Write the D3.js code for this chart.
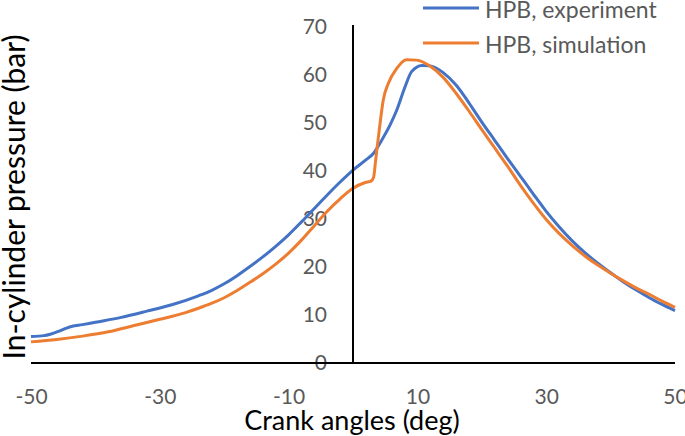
<!DOCTYPE html>
<html>
<head>
<meta charset="utf-8">
<script src="https://cdn.jsdelivr.net/npm/d3@7"></script>
<style>
  html, body { margin: 0; padding: 0; background: #fff; }
  svg { display: block; font-family: Lato, "DejaVu Sans", sans-serif; }
</style>
</head>
<body>
<svg id="chart" width="685" height="436"></svg>
<script>
// ---- data ----
const seriesNames = ["HPB, experiment", "HPB, simulation"];
const seriesColors = ["#4472C4", "#ED7D31"];

const experimentAngle = [-50, -48, -47, -45.5, -44, -42, -40, -36, -32, -28, -24, -22, -20, -18, -16, -14, -12, -10, -8, -6, -4, -2, 0, 2, 3.2, 4.5, 5.8, 6.8, 8.1, 9.1, 10.7, 12, 14, 16, 18, 20, 22, 24, 26, 28, 30, 32, 34, 36, 38, 40, 42, 44, 46, 48, 50];
const experimentPressure = [5.5, 5.7, 6.0, 6.7, 7.5, 8.0, 8.5, 9.5, 10.8, 12.2, 14.0, 15.1, 16.5, 18.2, 20.1, 22.1, 24.3, 26.7, 29.4, 32.2, 35.0, 37.7, 40.2, 42.3, 43.7, 46.5, 49.7, 52.7, 57.6, 60.7, 62.0, 61.9, 60.5, 57.9, 54.2, 50.2, 46.4, 42.6, 38.9, 35.2, 31.6, 28.4, 25.5, 23.0, 20.8, 18.8, 16.9, 15.2, 13.6, 12.2, 10.9];

const simulationAngle = [-50, -46, -42, -38, -34, -30, -26, -24, -22, -20, -18, -16, -14, -12, -10, -8, -6, -4, -2, 0, 1.9, 2.8, 3.2, 3.5, 3.8, 4.2, 4.7, 5.5, 6.8, 8.3, 9.9, 12, 14, 16, 18, 20, 22, 24, 26, 28, 30, 32, 34, 36, 38, 40, 42, 44, 46, 48, 50];
const simulationPressure = [4.4, 4.9, 5.6, 6.5, 7.8, 9.1, 10.5, 11.4, 12.4, 13.6, 15.1, 16.8, 18.6, 20.6, 22.9, 25.6, 28.6, 31.6, 34.2, 36.4, 37.6, 37.9, 38.7, 42.0, 45.5, 49.9, 54.8, 58.3, 61.4, 63.2, 63.1, 61.8, 59.5, 56.2, 52.5, 48.6, 44.8, 41.0, 37.0, 33.3, 29.9, 27.0, 24.5, 22.3, 20.4, 18.7, 17.1, 15.6, 14.3, 12.9, 11.6];

const xTicks = [-50, -30, -10, 10, 30, 50];
const yTicks = [0, 10, 20, 30, 40, 50, 60, 70];
const xTitle = "Crank angles (deg)";
const yTitle = "In-cylinder pressure (bar)";

// ---- chart ----
const svg = d3.select("#chart");
const x = d3.scaleLinear().domain([-50, 50]).range([31, 675]);
const y = d3.scaleLinear().domain([0, 70]).range([363, 27]);

const series = [
  { name: seriesNames[0], color: seriesColors[0], pts: experimentAngle.map((a, i) => [a, experimentPressure[i]]) },
  { name: seriesNames[1], color: seriesColors[1], pts: simulationAngle.map((a, i) => [a, simulationPressure[i]]) }
];

const fmt = d => String(d);

// y tick labels
const yAxis = d3.axisLeft(y).tickValues(yTicks).tickSize(0).tickPadding(26).tickFormat(fmt);
const gy = svg.append("g").attr("transform", `translate(${x(0)},0)`).call(yAxis);
gy.select(".domain").remove();
gy.selectAll("text").attr("font-size", 21).attr("fill", "#595959").attr("font-family", "Lato, sans-serif");

// x tick labels
const xAxis = d3.axisBottom(x).tickValues(xTicks).tickSize(0).tickPadding(26).tickFormat(fmt);
const gx = svg.append("g").attr("transform", `translate(0,${y(0)})`).call(xAxis);
gx.select(".domain").remove();
gx.selectAll("text").attr("font-size", 21).attr("fill", "#595959").attr("font-family", "Lato, sans-serif");

// lines
const line = d3.line().x(d => x(d[0])).y(d => y(d[1])).curve(d3.curveMonotoneX);
svg.append("g").selectAll("path").data(series).join("path")
  .attr("d", d => line(d.pts))
  .attr("fill", "none")
  .attr("stroke", d => d.color)
  .attr("stroke-width", 3)
  .attr("stroke-linejoin", "round");

// axis lines (drawn over data)
svg.append("line").attr("x1", x(-50)).attr("x2", x(50)).attr("y1", y(0)).attr("y2", y(0))
  .attr("stroke", "#000").attr("stroke-width", 2);
svg.append("line").attr("x1", x(0)).attr("x2", x(0)).attr("y1", y(0)).attr("y2", y(70) - 2)
  .attr("stroke", "#000").attr("stroke-width", 2);

// axis titles
svg.append("text").attr("x", 352).attr("y", 430).attr("text-anchor", "middle")
  .attr("font-size", 27).attr("fill", "#000").text(xTitle);
svg.append("text").attr("transform", "translate(25,197) rotate(-90)").attr("text-anchor", "middle")
  .attr("font-size", 30).attr("fill", "#000").text(yTitle);

// legend
const leg = svg.append("g").selectAll("g").data(series).join("g")
  .attr("transform", (d, i) => `translate(423,${8 + i * 35})`);
leg.append("line").attr("x1", 0).attr("x2", 56).attr("y1", 0).attr("y2", 0)
  .attr("stroke", d => d.color).attr("stroke-width", 3);
leg.append("text").attr("x", 62).attr("y", 2).attr("dy", "0.35em")
  .attr("font-size", 23).attr("fill", "#595959").text(d => d.name);
</script>
</body>
</html>
